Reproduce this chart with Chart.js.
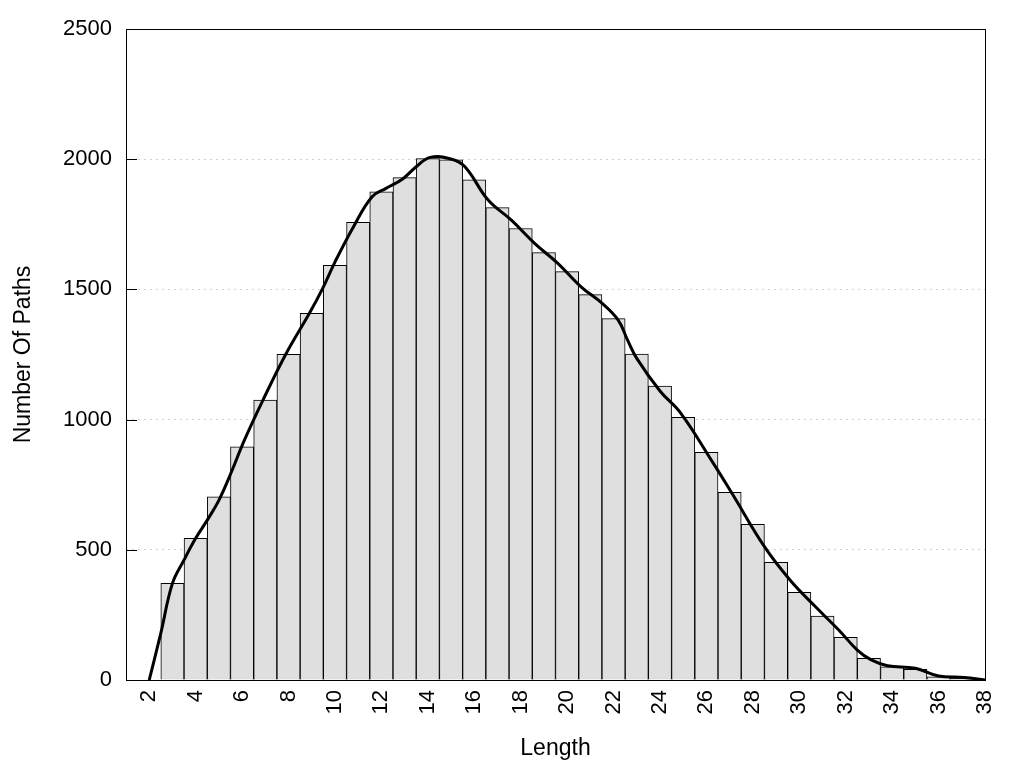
<!DOCTYPE html>
<html>
<head>
<meta charset="utf-8">
<script src="https://cdn.jsdelivr.net/npm/chart.js@4/dist/chart.umd.min.js"></script>
<style>
  html, body { margin: 0; padding: 0; background: #ffffff; }
  canvas { display: block; }
</style>
</head>
<body>
<canvas id="c" width="1024" height="768"></canvas>
<script>
// ---- data ----
const lengths = [3,4,5,6,7,8,9,10,11,12,13,14,15,16,17,18,19,20,21,22,23,24,25,26,27,28,29,30,31,32,33,34,35,36,37];
const pathCounts = [371,544,703,895,1075,1251,1408,1592,1758,1875,1929,2002,1998,1921,1814,1734,1641,1568,1480,1388,1252,1129,1009,874,721,598,452,337,245,164,83,51,41,12,6];
const curveX = [2.0,2.5,3.0,3.5,4.0,4.5,5.0,5.5,6.1,6.9,7.9,8.9,9.45,10.0,10.8,11.6,12.2,12.9,13.5,14.1,15.0,15.6,16.6,17.6,18.6,19.6,20.6,21.5,22.2,22.6,23.0,24.0,24.9,26.3,27.1,28.5,29.6,30.7,31.7,32.5,33.1,33.8,35.0,36.0,37.1,38.0];
const curveY = [0,180,371,461,544,614,690,790,921,1075,1254,1408,1500,1605,1741,1856,1888,1923,1971,2007,2001,1971,1843,1766,1677,1600,1510,1447,1382,1306,1235,1110,1024,832,717,512,384,281,192,115,77,55,45,15,10,0];
const xTickValues = [2,4,6,8,10,12,14,16,18,20,22,24,26,28,30,32,34,36,38];
const yTickValues = [0,500,1000,1500,2000,2500];
const xTitle = 'Length';
const yTitle = 'Number Of Paths';

const FONT = 'Arial, "Liberation Sans", sans-serif';

const frame = {
  id: 'frame',
  afterDatasetsDraw(chart) {
    const {ctx, chartArea: a, scales: {y}} = chart;
    ctx.save();
    ctx.strokeStyle = '#000';
    ctx.lineWidth = 1;
    ctx.beginPath();
    yTickValues.forEach(v => {
      const py = Math.round(y.getPixelForValue(v)) + 0.5;
      ctx.moveTo(a.left, py);
      ctx.lineTo(a.left + 11, py);
    });
    ctx.stroke();
    ctx.strokeRect(Math.round(a.left) + 0.5, Math.round(a.top) + 0.5,
                   Math.round(a.right - a.left), Math.round(a.bottom - a.top));
    ctx.restore();
  }
};

new Chart(document.getElementById('c'), {
  type: 'bar',
  data: {
    datasets: [
      {
        type: 'line',
        data: curveX.map((x, i) => ({x, y: curveY[i]})),
        borderColor: '#000',
        borderWidth: 3,
        pointRadius: 0,
        tension: 0.4,
        fill: false,
        order: 0
      },
      {
        type: 'bar',
        data: lengths.map((x, i) => ({x, y: pathCounts[i]})),
        backgroundColor: '#dfdfdf',
        borderColor: '#000',
        borderWidth: 1,
        barPercentage: 1,
        categoryPercentage: 1,
        order: 1
      }
    ]
  },
  options: {
    responsive: false,
    animation: false,
    events: [],
    layout: { padding: { left: 0, right: 39, top: 29, bottom: 0 } },
    plugins: { legend: { display: false }, tooltip: { enabled: false } },
    scales: {
      x: {
        type: 'linear',
        min: 1,
        max: 38,
        offset: false,
        afterBuildTicks: s => { s.ticks = xTickValues.map(v => ({value: v})); },
        afterFit: s => { s.height = 88; },
        grid: { display: false, drawTicks: false },
        border: { display: false },
        ticks: {
          autoSkip: false,
          minRotation: 90,
          maxRotation: 90,
          padding: 10,
          color: '#000',
          font: { family: FONT, size: 22 },
          callback: v => String(v)
        },
        title: {
          display: true,
          text: xTitle,
          color: '#000',
          font: { family: FONT, size: 23 },
          padding: { top: 0, bottom: 6 }
        }
      },
      y: {
        min: 0,
        max: 2500,
        afterBuildTicks: s => { s.ticks = yTickValues.map(v => ({value: v})); },
        afterFit: s => { s.width = 126; },
        grid: {
          drawTicks: false,
          color: ctx => (ctx.tick && (ctx.tick.value === 0 || ctx.tick.value === 2500)) ? 'rgba(0,0,0,0)' : '#d0d0d0',
          lineWidth: 1
        },
        border: { display: false, dash: [2, 4] },
        ticks: {
          padding: 14,
          color: '#000',
          font: { family: FONT, size: 22 },
          callback: v => String(v)
        },
        title: {
          display: true,
          text: yTitle,
          color: '#000',
          font: { family: FONT, size: 23 },
          padding: { top: 10, bottom: 0 }
        }
      }
    }
  },
  plugins: [frame]
});
</script>
</body>
</html>
